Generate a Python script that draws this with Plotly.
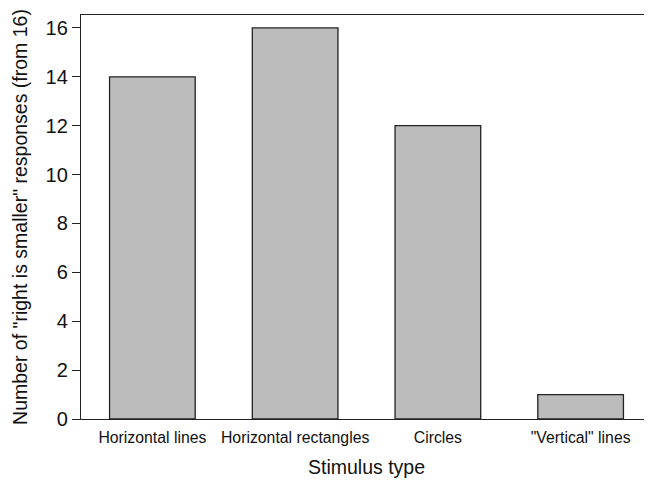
import plotly.graph_objects as go

categories = ["Horizontal lines", "Horizontal rectangles", "Circles", "\"Vertical\" lines"]
values = [14, 16, 12, 1]
y_ticks = [0, 2, 4, 6, 8, 10, 12, 14, 16]

fig = go.Figure()
fig.add_trace(go.Bar(
    x=categories, y=values, width=0.6,
    marker=dict(
        color="white",
        line=dict(color="#222", width=1.3),
        pattern=dict(shape=".", size=2, solidity=0.5, fgcolor="#777", bgcolor="#f2f2f2", fillmode="replace"),
    ),
))

# page body has an 8px margin in the browser; compensate
fig.update_layout(
    width=644, height=473,
    margin=dict(l=73, r=0, t=7, b=62),
    paper_bgcolor="white", plot_bgcolor="white",
    font=dict(family="Liberation Sans, Arial, sans-serif", color="#111"),
    showlegend=False,
    bargap=0.4,
)
fig.update_xaxes(
    type="category", range=[-0.5, 3.5], automargin=False,
    showline=True, linecolor="#222", linewidth=1.3, mirror=True,
    ticks="", showgrid=False, ticklabelstandoff=4,
    tickfont=dict(size=15.8),
    title=dict(text="Stimulus type", font=dict(size=19.5), standoff=15),
)
fig.update_yaxes(
    range=[0, 16.53], tickvals=y_ticks, automargin=False,
    showline=True, linecolor="#222", linewidth=1.3,
    ticks="outside", ticklen=8, tickcolor="#222", tickwidth=1.2,
    showgrid=False, zeroline=False,
    tickfont=dict(size=20),
    title=dict(text="Number of \"right is smaller\" responses (from 16)", font=dict(size=19.5), standoff=12),
)

fig.write_html("out.html")
